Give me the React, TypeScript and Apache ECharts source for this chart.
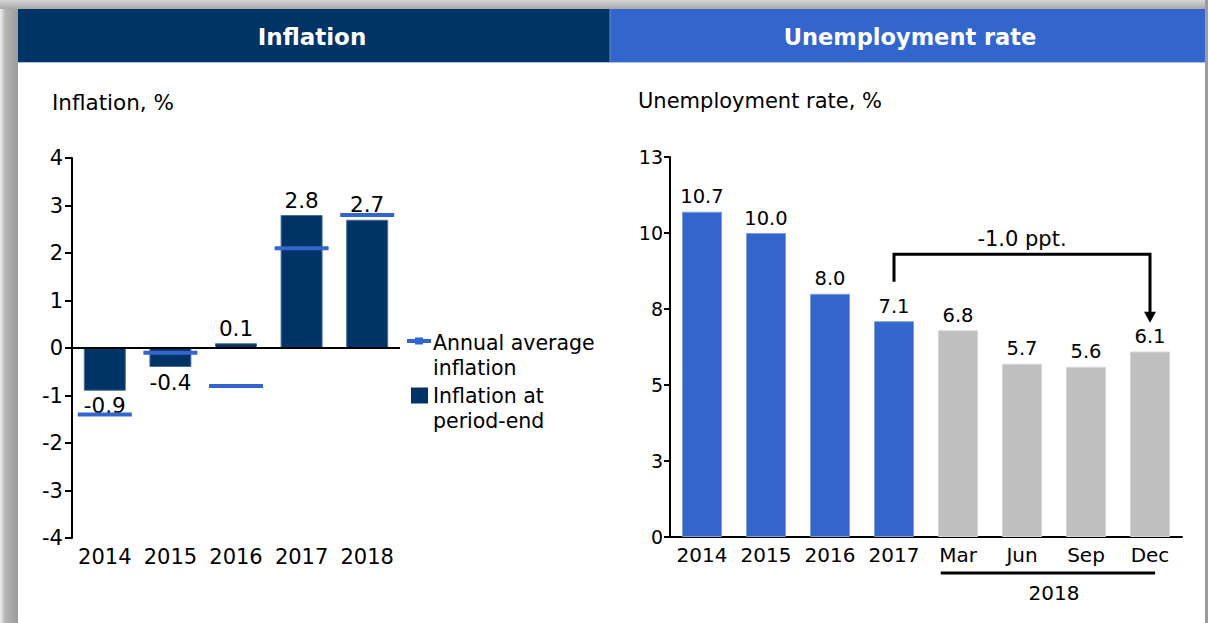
import React, { useEffect, useRef } from 'react';
import * as echarts from 'echarts';

// ---------- data ----------
const inflationYears = ['2014', '2015', '2016', '2017', '2018'];
const inflationPeriodEnd = [-0.9, -0.4, 0.1, 2.8, 2.7];
const inflationAnnualAvg = [-1.4, -0.1, -0.8, 2.1, 2.8];
const inflationAxis = { min: -4, max: 4, interval: 1 };

const unempCategories = ['2014', '2015', '2016', '2017', 'Mar', 'Jun', 'Sep', 'Dec'];
const unempValues = [10.7, 10.0, 8.0, 7.1, 6.8, 5.7, 5.6, 6.1];
const unempIsQuarter = [false, false, false, false, true, true, true, true];
const unempAxis = { min: 0, max: 12.5, interval: 2.5 };
const unempGroupLabel = '2018';
const changeLabel = '-1.0 ppt.';
const changeFrom = 3; // category index
const changeTo = 7;
const bracketStart = 8.4;
const bracketTop = 9.3;
const arrowTip = 7.05;

const headerTitles = ['Inflation', 'Unemployment rate'];
const axisTitles = ['Inflation, %', 'Unemployment rate, %'];
const legendNames = ['Annual average\ninflation', 'Inflation at\nperiod-end'];

// ---------- style ----------
const NAVY = '#003366';
const BLUE = '#3366cc';
const GRAY = '#c0c0c0';
const FONT = '"DejaVu Sans", Verdana, sans-serif';

export default function App() {
  const ref = useRef<HTMLDivElement>(null);

  useEffect(() => {
    if (!ref.current) return;
    const chart = echarts.init(ref.current, undefined, { renderer: 'svg' });

    const option: any = {
      animation: false,
      backgroundColor: '#ffffff',
      textStyle: { fontFamily: FONT, color: '#000' },
      grid: [
        { left: 72, top: 158, width: 328, height: 380 },
        { left: 670, top: 157, width: 512, height: 380 },
      ],
      xAxis: [
        {
          type: 'category',
          gridIndex: 0,
          data: inflationYears,
          position: 'bottom',
          axisLine: { show: false, onZero: false },
          axisTick: { show: false },
          axisLabel: { interval: 0, fontSize: 21, color: '#000', margin: 8, fontFamily: FONT },
        },
        {
          type: 'category',
          gridIndex: 1,
          data: unempCategories,
          axisLine: { show: true, lineStyle: { color: '#000', width: 2 } },
          axisTick: { show: false },
          axisLabel: { interval: 0, fontSize: 20, color: '#000', margin: 8, fontFamily: FONT },
        },
      ],
      yAxis: [
        {
          type: 'value',
          gridIndex: 0,
          min: inflationAxis.min,
          max: inflationAxis.max,
          interval: inflationAxis.interval,
          axisLine: { show: true, lineStyle: { color: '#000', width: 2 } },
          axisTick: { show: true, length: 7, lineStyle: { color: '#000', width: 2 } },
          axisLabel: { fontSize: 21, color: '#000', margin: 9, fontFamily: FONT },
          splitLine: { show: false },
        },
        {
          type: 'value',
          gridIndex: 1,
          min: unempAxis.min,
          max: unempAxis.max,
          interval: unempAxis.interval,
          axisLine: { show: true, lineStyle: { color: '#000', width: 2 } },
          axisTick: { show: true, length: 6, lineStyle: { color: '#000', width: 2 } },
          axisLabel: {
            fontSize: 19,
            color: '#000',
            margin: 7,
            fontFamily: FONT,
            formatter: (v: number) => String(Math.round(v)),
          },
          splitLine: { show: false },
        },
      ],
      series: [
        {
          name: legendNames[1],
          type: 'bar',
          xAxisIndex: 0,
          yAxisIndex: 0,
          barWidth: '64%',
          itemStyle: { color: NAVY, borderColor: '#4f6f96', borderWidth: 1 },
          data: inflationPeriodEnd.map((v) => ({
            value: v,
            label: { position: v < 0 ? 'bottom' : 'top' },
          })),
          label: {
            show: true,
            fontSize: 21.5,
            color: '#000',
            distance: 4,
            fontFamily: FONT,
            formatter: (p: any) => Number(p.value).toFixed(1),
          },
          markLine: {
            silent: true,
            symbol: ['none', 'none'],
            label: { show: false },
            lineStyle: { color: '#000', width: 2, type: 'solid' },
            data: [{ yAxis: 0 }],
          },
        },
        {
          name: legendNames[0],
          type: 'scatter',
          xAxisIndex: 0,
          yAxisIndex: 0,
          symbol: 'rect',
          symbolSize: [54, 4],
          itemStyle: { color: BLUE, opacity: 1 },
          z: 4,
          data: inflationAnnualAvg,
        },
        {
          name: 'Unemployment rate',
          type: 'bar',
          xAxisIndex: 1,
          yAxisIndex: 1,
          barWidth: '62.5%',
          data: unempValues.map((v, i) => ({
            value: v,
            itemStyle: unempIsQuarter[i]
              ? { color: GRAY, borderColor: '#d6d6d6', borderWidth: 1 }
              : { color: BLUE, borderColor: '#7e9de0', borderWidth: 1 },
          })),
          label: {
            show: true,
            position: 'top',
            fontSize: 19.5,
            color: '#000',
            distance: 5,
            fontFamily: FONT,
            formatter: (p: any) => Number(p.value).toFixed(1),
          },
        },
        {
          type: 'custom',
          xAxisIndex: 1,
          yAxisIndex: 1,
          silent: true,
          clip: false,
          z: 5,
          data: [[0, 0]],
          renderItem: (_params: any, api: any) => {
            const band = api.size([1, 0])[0];
            const pStart = api.coord([changeFrom, bracketStart]);
            const pTop = api.coord([changeFrom, bracketTop]);
            const pEnd = api.coord([changeTo, bracketTop]);
            const pTip = api.coord([changeTo, arrowTip]);
            const base = api.coord([4, 0]);
            const last = api.coord([7, 0]);
            const headH = 11;
            const lineLeft = base[0] - band * 0.27;
            const lineRight = last[0] + band * 0.08;
            return {
              type: 'group',
              children: [
                {
                  type: 'polyline',
                  shape: {
                    points: [
                      [pStart[0], pStart[1]],
                      [pStart[0], pTop[1]],
                      [pEnd[0], pTop[1]],
                      [pEnd[0], pTip[1] - headH + 1],
                    ],
                  },
                  style: { stroke: '#000', lineWidth: 3, fill: null },
                },
                {
                  type: 'polygon',
                  shape: {
                    points: [
                      [pEnd[0] - 6, pTip[1] - headH],
                      [pEnd[0] + 6, pTip[1] - headH],
                      [pEnd[0], pTip[1]],
                    ],
                  },
                  style: { fill: '#000' },
                },
                {
                  type: 'text',
                  style: {
                    text: changeLabel,
                    x: (pStart[0] + pEnd[0]) / 2,
                    y: pTop[1] - 15,
                    align: 'center',
                    verticalAlign: 'middle',
                    fill: '#000',
                    font: `21px ${FONT}`,
                  },
                },
                {
                  type: 'line',
                  shape: { x1: lineLeft, y1: base[1] + 36, x2: lineRight, y2: base[1] + 36 },
                  style: { stroke: '#000', lineWidth: 3 },
                },
                {
                  type: 'text',
                  style: {
                    text: unempGroupLabel,
                    x: (base[0] + last[0]) / 2,
                    y: base[1] + 56,
                    align: 'center',
                    verticalAlign: 'middle',
                    fill: '#000',
                    font: `20px ${FONT}`,
                  },
                },
              ],
            };
          },
        },
      ],
      graphic: [
        // frame shadow bands
        {
          type: 'rect',
          shape: { x: 0, y: 0, width: 18, height: 623 },
          style: {
            fill: {
              type: 'linear', x: 0, y: 0, x2: 1, y2: 0,
              colorStops: [
                { offset: 0, color: '#f0f0f0' },
                { offset: 0.3, color: '#b4b4b4' },
                { offset: 1, color: '#9c9c9c' },
              ],
            },
          },
          silent: true,
        },
        {
          type: 'rect',
          shape: { x: 0, y: 0, width: 1208, height: 9 },
          style: {
            fill: {
              type: 'linear', x: 0, y: 0, x2: 0, y2: 1,
              colorStops: [
                { offset: 0, color: '#d4d4d4' },
                { offset: 1, color: '#a8a8a8' },
              ],
            },
          },
          silent: true,
        },
        {
          type: 'rect',
          shape: { x: 1205, y: 0, width: 3, height: 623 },
          style: { fill: '#9c9c9c' },
          silent: true,
        },
        // headers
        { type: 'rect', shape: { x: 18, y: 9, width: 592, height: 53 }, style: { fill: NAVY }, silent: true },
        { type: 'rect', shape: { x: 610, y: 9, width: 595, height: 53 }, style: { fill: BLUE }, silent: true },
        { type: 'line', shape: { x1: 610, y1: 9, x2: 610, y2: 62 }, style: { stroke: '#6f8cc4', lineWidth: 1 }, silent: true },
        { type: 'line', shape: { x1: 18, y1: 62.5, x2: 1205, y2: 62.5 }, style: { stroke: '#a9bfe6', lineWidth: 1 }, silent: true },
        {
          type: 'text', x: 312, y: 37, silent: true,
          style: { text: headerTitles[0], fill: '#fff', font: `bold 23px ${FONT}`, align: 'center', verticalAlign: 'middle' },
        },
        {
          type: 'text', x: 910, y: 37, silent: true,
          style: { text: headerTitles[1], fill: '#fff', font: `bold 22.5px ${FONT}`, align: 'center', verticalAlign: 'middle' },
        },
        // axis titles
        {
          type: 'text', x: 52, y: 102, silent: true,
          style: { text: axisTitles[0], fill: '#000', font: `21.5px ${FONT}`, align: 'left', verticalAlign: 'middle' },
        },
        {
          type: 'text', x: 638, y: 101, silent: true,
          style: { text: axisTitles[1], fill: '#000', font: `21px ${FONT}`, align: 'left', verticalAlign: 'middle' },
        },
        // legend
        { type: 'rect', shape: { x: 407, y: 339, width: 24, height: 4 }, style: { fill: BLUE }, silent: true },
        { type: 'rect', shape: { x: 415, y: 337.5, width: 8, height: 7 }, style: { fill: BLUE }, silent: true },
        {
          type: 'text', x: 433, y: 330, silent: true,
          style: { text: legendNames[0], fill: '#000', font: `20.5px ${FONT}`, lineHeight: 25.5, align: 'left', verticalAlign: 'top' },
        },
        { type: 'rect', shape: { x: 411, y: 387.5, width: 17, height: 16 }, style: { fill: NAVY }, silent: true },
        {
          type: 'text', x: 433, y: 383, silent: true,
          style: { text: legendNames[1], fill: '#000', font: `20.5px ${FONT}`, lineHeight: 25, align: 'left', verticalAlign: 'top' },
        },
      ],
    };

    chart.setOption(option);
    return () => chart.dispose();
  }, []);

  return (
    <div
      ref={ref}
      style={{ position: 'absolute', left: 0, top: 0, width: 1208, height: 623 }}
    />
  );
}
